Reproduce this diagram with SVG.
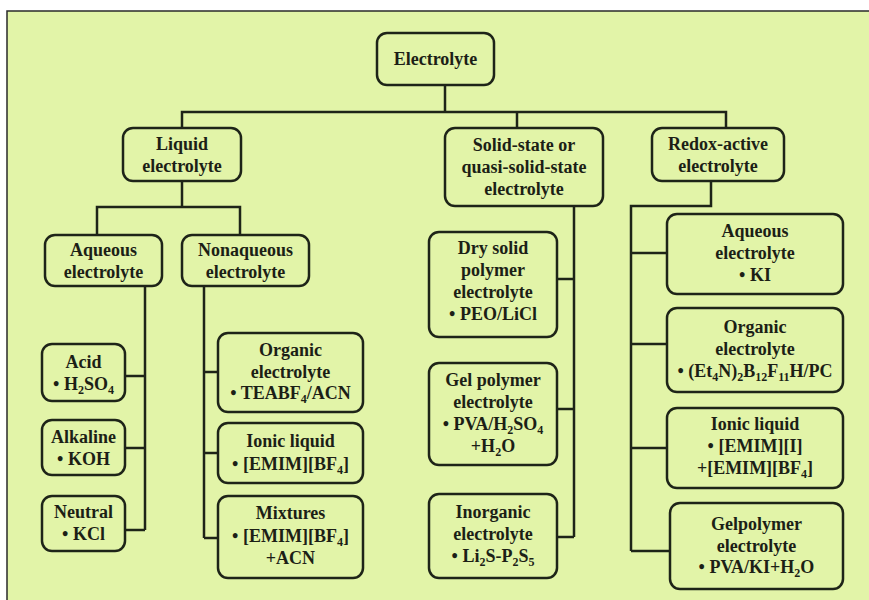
<svg xmlns="http://www.w3.org/2000/svg" width="869" height="600" viewBox="0 0 869 600">
<style>
.node rect{fill:#e2f4a8;stroke:#1e2418;stroke-width:2.5}
text{font-family:"Liberation Serif","Times New Roman",serif;font-weight:bold;font-size:18px;fill:#1c1f16;text-anchor:middle}
.sub{font-size:12px}
#connectors path{fill:none;stroke:#1e2418;stroke-width:2.5}
</style>
<rect x="0" y="0" width="869" height="600" fill="#ffffff"/>
<rect x="7" y="11" width="875" height="600" fill="#e2f4a8" stroke="#2a2a2a" stroke-width="1.5"/>
<g id="connectors">
<path d="M445 85V112M182 128V112H726V128M517 112V128"/>
<path d="M182 181V207M97 235V207H240V235"/>
<path d="M145 286V530M125 376H145M125 448H145M125 530H145"/>
<path d="M204 286V538M204 372H218M204 453H218M204 538H218"/>
<path d="M574 206V537M557 279H574M557 409H574M557 537H574"/>
<path d="M711 181V206H631V551M631 253H667M631 344H667M631 448H667M631 551H670"/>
</g>
<g id="electrolyte" class="node"><rect x="377" y="33" width="117" height="52" rx="10"/><text x="435.5" y="65">Electrolyte</text></g>
<g id="liquid" class="node"><rect x="123" y="128" width="118" height="53" rx="10"/><text x="182" y="150">Liquid</text><text x="182" y="172">electrolyte</text></g>
<g id="solid" class="node"><rect x="445" y="128" width="158" height="78" rx="10"/><text x="524" y="151">Solid-state or</text><text x="524" y="173">quasi-solid-state</text><text x="524" y="195">electrolyte</text></g>
<g id="redox" class="node"><rect x="652" y="128" width="132" height="53" rx="10"/><text x="718" y="150">Redox-active</text><text x="718" y="172">electrolyte</text></g>
<g id="aqueous" class="node"><rect x="45" y="235" width="117" height="51" rx="10"/><text x="103.5" y="256">Aqueous</text><text x="103.5" y="278">electrolyte</text></g>
<g id="nonaqueous" class="node"><rect x="182" y="235" width="127" height="51" rx="10"/><text x="245.5" y="256">Nonaqueous</text><text x="245.5" y="278">electrolyte</text></g>
<g id="acid" class="node"><rect x="42" y="344" width="83" height="57" rx="10"/><text x="83.5" y="368">Acid</text><text x="83.5" y="390">• H<tspan class="sub" dy="4">2</tspan><tspan dy="-4">SO</tspan><tspan class="sub" dy="4">4</tspan></text></g>
<g id="alkaline" class="node"><rect x="42" y="420" width="83" height="55" rx="10"/><text x="83.5" y="443">Alkaline</text><text x="83.5" y="465">• KOH</text></g>
<g id="neutral" class="node"><rect x="42" y="496" width="83" height="55" rx="10"/><text x="83.5" y="518">Neutral</text><text x="83.5" y="540">• KCl</text></g>
<g id="organic" class="node"><rect x="218" y="333" width="145" height="79" rx="10"/><text x="290.5" y="356">Organic</text><text x="290.5" y="378">electrolyte</text><text x="290.5" y="399">• TEABF<tspan class="sub" dy="4">4</tspan><tspan dy="-4">/ACN</tspan></text></g>
<g id="ionic-liquid" class="node"><rect x="218" y="423" width="145" height="60" rx="10"/><text x="290.5" y="447">Ionic liquid</text><text x="290.5" y="470">• [EMIM][BF<tspan class="sub" dy="4">4</tspan><tspan dy="-4">]</tspan></text></g>
<g id="mixtures" class="node"><rect x="218" y="496" width="145" height="82" rx="10"/><text x="290.5" y="519">Mixtures</text><text x="290.5" y="542">• [EMIM][BF<tspan class="sub" dy="4">4</tspan><tspan dy="-4">]</tspan></text><text x="290.5" y="564">+ACN</text></g>
<g id="dry-solid" class="node"><rect x="429" y="232" width="128" height="105" rx="10"/><text x="493" y="254">Dry solid</text><text x="493" y="276">polymer</text><text x="493" y="298">electrolyte</text><text x="493" y="320">• PEO/LiCl</text></g>
<g id="gel-polymer" class="node"><rect x="429" y="363" width="128" height="102" rx="10"/><text x="493" y="386">Gel polymer</text><text x="493" y="408">electrolyte</text><text x="493" y="430">• PVA/H<tspan class="sub" dy="4">2</tspan><tspan dy="-4">SO</tspan><tspan class="sub" dy="4">4</tspan></text><text x="493" y="452">+H<tspan class="sub" dy="4">2</tspan><tspan dy="-4">O</tspan></text></g>
<g id="inorganic" class="node"><rect x="429" y="494" width="128" height="84" rx="10"/><text x="493" y="518">Inorganic</text><text x="493" y="540">electrolyte</text><text x="493" y="562">• Li<tspan class="sub" dy="4">2</tspan><tspan dy="-4">S-P</tspan><tspan class="sub" dy="4">2</tspan><tspan dy="-4">S</tspan><tspan class="sub" dy="4">5</tspan></text></g>
<g id="redox-aqueous" class="node"><rect x="667" y="214" width="176" height="80" rx="10"/><text x="755" y="237">Aqueous</text><text x="755" y="259">electrolyte</text><text x="755" y="281">• KI</text></g>
<g id="redox-organic" class="node"><rect x="667" y="308" width="176" height="84" rx="10"/><text x="755" y="333">Organic</text><text x="755" y="355">electrolyte</text><text x="755" y="377">• (Et<tspan class="sub" dy="4">4</tspan><tspan dy="-4">N)</tspan><tspan class="sub" dy="4">2</tspan><tspan dy="-4">B</tspan><tspan class="sub" dy="4">12</tspan><tspan dy="-4">F</tspan><tspan class="sub" dy="4">11</tspan><tspan dy="-4">H/PC</tspan></text></g>
<g id="redox-ionic" class="node"><rect x="667" y="408" width="176" height="80" rx="10"/><text x="755" y="430">Ionic liquid</text><text x="755" y="452">• [EMIM][I]</text><text x="755" y="474">+[EMIM][BF<tspan class="sub" dy="4">4</tspan><tspan dy="-4">]</tspan></text></g>
<g id="redox-gelpolymer" class="node"><rect x="670" y="503" width="173" height="86" rx="10"/><text x="756.5" y="530">Gelpolymer</text><text x="756.5" y="552">electrolyte</text><text x="756.5" y="573">• PVA/KI+H<tspan class="sub" dy="4">2</tspan><tspan dy="-4">O</tspan></text></g>
</svg>
